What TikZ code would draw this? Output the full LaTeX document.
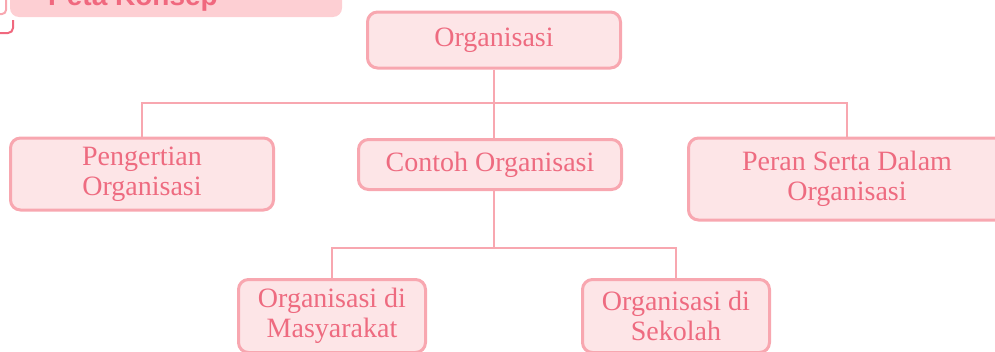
\documentclass[tikz,border=0pt]{standalone}
\usepackage{fontspec}
\setmainfont{Liberation Serif}
\newfontfamily\judulfont{Liberation Sans}
\usepackage{xcolor}
\definecolor{garis}{HTML}{F8A7B0}
\definecolor{isi}{HTML}{FDE5E7}
\definecolor{teks}{HTML}{EE6B80}
\definecolor{pita}{HTML}{FDCFD3}
\definecolor{judul}{HTML}{F0687E}

\begin{document}
\begin{tikzpicture}[x=1pt,y=-1pt,
    kotak/.style={draw=garis,fill=isi,line width=3pt,rounded corners=10pt,text=teks,
      align=center,inner sep=0pt,font=\fontsize{28}{30}\selectfont},
    hubung/.style={draw=garis,line width=2.5pt}]
        \useasboundingbox (0,0) rectangle (995,351);
        \clip (0,0) rectangle (995,351);
        \fill[pita,rounded corners=9pt] (10,-20) rectangle (342,17);
        \node[anchor=base west,inner sep=0pt,text=judul,font=\judulfont\bfseries\fontsize{28}{30}\selectfont] (judulpeta) at (48,5) {Peta Konsep};
        \draw[garis,line width=2pt,rounded corners=4pt] (6,-2) -- (6,14) -- (-4,14);
        \draw[judul,line width=2pt,rounded corners=5pt] (13,20) -- (13,33) -- (-4,33);
        \node[kotak,minimum width=253pt,minimum height=56pt] (org) at (494,40) {Organisasi};
        \node[kotak,minimum width=263pt,minimum height=72pt] (pengertian) at (142,174) {Pengertian\\Organisasi};
        \node[kotak,minimum width=263pt,minimum height=50pt] (contoh) at (490,164.5) {Contoh Organisasi};
        \node[kotak,minimum width=317pt,minimum height=82pt] (peran) at (847,179) {Peran Serta Dalam\\Organisasi};
        \node[kotak,minimum width=187pt,minimum height=73pt] (masyarakat) at (332,316) {Organisasi di\\Masyarakat};
        \node[kotak,minimum width=187pt,minimum height=73pt] (sekolah) at (676,316) {Organisasi di\\Sekolah};
        \coordinate (cabang1) at (494,103);
        \coordinate (cabang2) at (494,248);
        \draw[hubung] (org.south) -- (cabang1);
        \draw[hubung] (cabang1) -| (pengertian.north);
        \draw[hubung] (cabang1) -| (peran.north);
        \draw[hubung] (cabang1) -- (cabang1 |- contoh.north);
        \draw[hubung] (cabang2 |- contoh.south) -- (cabang2);
        \draw[hubung] (cabang2) -| (masyarakat.north);
        \draw[hubung] (cabang2) -| (sekolah.north);
    \end{tikzpicture}
\end{document}
